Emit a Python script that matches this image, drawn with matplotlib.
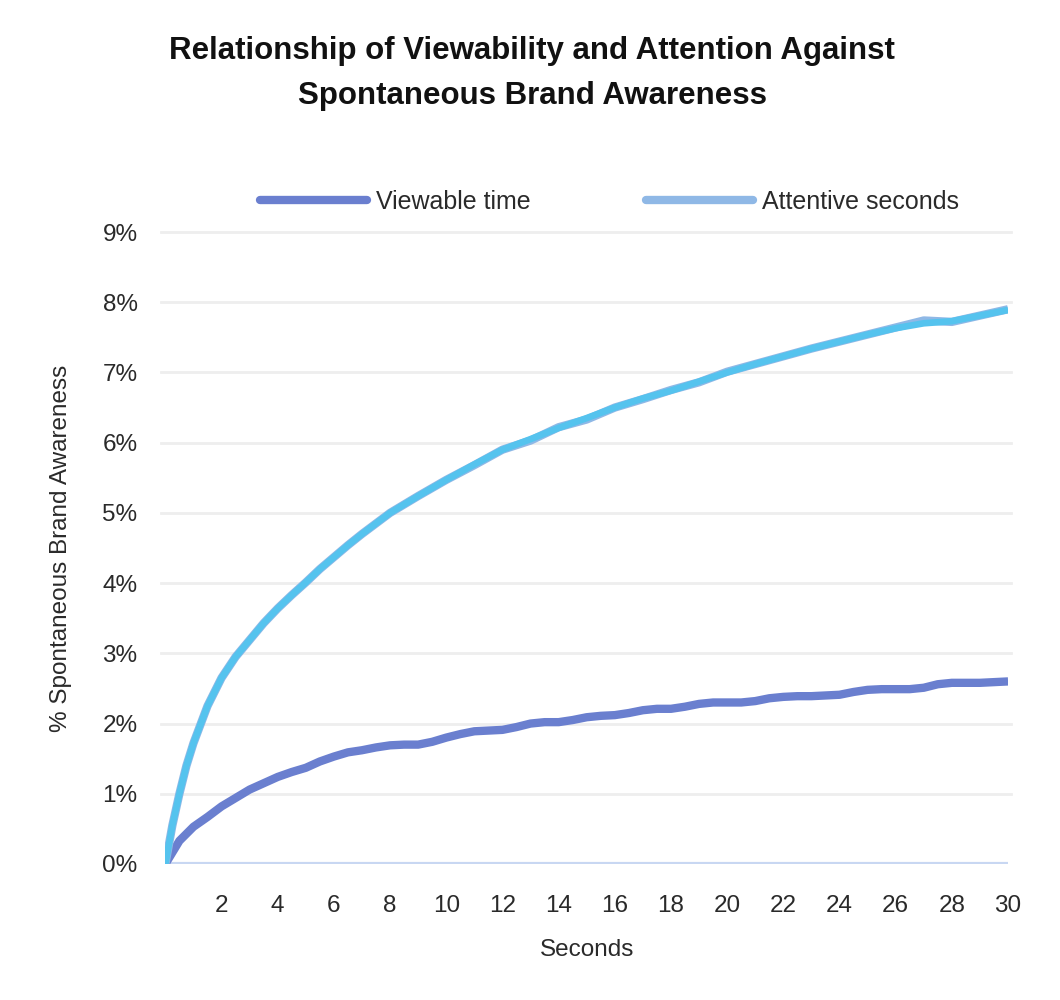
import matplotlib
matplotlib.use("Agg")
import matplotlib.pyplot as plt
from matplotlib.ticker import FuncFormatter

# Values (% spontaneous brand awareness)
viewable_secs = [0, 0.5, 1, 1.5, 2, 2.5, 3, 3.5, 4, 4.5, 5, 5.5, 6, 6.5, 7, 7.5, 8, 8.5, 9, 9.5,
                 10, 10.5, 11, 11.5, 12, 12.5, 13, 13.5, 14, 14.5, 15, 15.5, 16, 16.5, 17, 17.5,
                 18, 18.5, 19, 19.5, 20, 20.5, 21, 21.5, 22, 22.5, 23, 23.5, 24, 24.5, 25, 25.5,
                 26, 26.5, 27, 27.5, 28, 28.5, 29, 29.5, 30]
viewable_time = [0, 0.33, 0.53, 0.67, 0.82, 0.94, 1.06, 1.15, 1.24, 1.31, 1.37, 1.46, 1.53, 1.59,
                 1.62, 1.66, 1.69, 1.70, 1.70, 1.74, 1.80, 1.85, 1.89, 1.90, 1.91, 1.95, 2.00,
                 2.02, 2.02, 2.05, 2.09, 2.11, 2.12, 2.15, 2.19, 2.21, 2.21, 2.24, 2.28, 2.30,
                 2.30, 2.30, 2.32, 2.36, 2.38, 2.39, 2.39, 2.40, 2.41, 2.45, 2.48, 2.49, 2.49,
                 2.49, 2.51, 2.56, 2.58, 2.58, 2.58, 2.59, 2.60]

attentive_secs = [0, 0.25, 0.5, 0.75, 1, 1.5, 2, 2.5, 3, 3.5, 4, 4.5, 5, 5.5, 6, 6.5, 7, 7.5, 8,
                  9, 10, 11, 12, 13, 14, 15, 16, 17, 18, 19, 20, 21, 22, 23, 24, 25, 26,
                  27, 28, 29, 30]
attentive_seconds = [0, 0.55, 1.00, 1.40, 1.72, 2.25, 2.65, 2.95, 3.19, 3.43, 3.64, 3.83, 4.01,
                     4.20, 4.37, 4.54, 4.70, 4.85, 5.00, 5.24, 5.47, 5.68, 5.90, 6.03, 6.22,
                     6.33, 6.50, 6.62, 6.75, 6.86, 7.01, 7.12, 7.23, 7.34, 7.44, 7.54, 7.64,
                     7.74, 7.72, 7.81, 7.90]
# overlaid cyan curve (follows the attentive series closely)
attentive_fit = [0, 0.55, 1.00, 1.40, 1.72, 2.25, 2.65, 2.95, 3.19, 3.43, 3.64, 3.83, 4.01,
                 4.20, 4.37, 4.54, 4.70, 4.85, 5.00, 5.24, 5.47, 5.69, 5.90, 6.05, 6.21,
                 6.35, 6.50, 6.63, 6.74, 6.87, 7.00, 7.12, 7.23, 7.34, 7.44, 7.54, 7.63,
                 7.70, 7.73, 7.81, 7.89]

x_ticks = list(range(2, 31, 2))
y_ticks = list(range(0, 10))

plt.rcParams['font.family'] = ['Liberation Sans', 'DejaVu Sans']
text_col = '#2a2a2a'

fig = plt.figure(figsize=(10.6, 10), dpi=100)
ax = fig.add_axes([0.156, 0.136, 0.795, 0.632])

ax.plot(viewable_secs, viewable_time, color='#6a7fcf', lw=6, solid_capstyle='butt',
        solid_joinstyle='round', label='Viewable time', zorder=3)
ax.plot(attentive_secs, attentive_seconds, color='#8fb8e6', lw=6, solid_capstyle='butt',
        solid_joinstyle='round', label='Attentive seconds', zorder=3)
ax.plot(attentive_secs, attentive_fit, color='#55c3ee', lw=4.8, solid_capstyle='butt',
        solid_joinstyle='round', zorder=4)

ax.set_xlim(0, 30)
ax.set_ylim(0, 9)
ax.set_xticks(x_ticks)
ax.set_yticks(y_ticks)
ax.yaxis.set_major_formatter(FuncFormatter(lambda v, p: f"{int(v)}%"))
ax.tick_params(axis='both', length=0, labelsize=17.5, colors=text_col)
ax.tick_params(axis='x', pad=22)
ax.tick_params(axis='y', pad=20)

for s in ax.spines.values():
    s.set_visible(False)
for yv in y_ticks[1:]:
    ax.axhline(yv, color='#eeeeee', lw=2, zorder=1, xmin=-0.005, xmax=1.003, clip_on=False)
ax.axhline(0, color='#c8d7f2', lw=3, zorder=2)

ax.set_xlabel('Seconds', fontsize=17.5, color=text_col, labelpad=16)
ax.set_ylabel('% Spontaneous Brand Awareness', fontsize=17.5, color=text_col, labelpad=22)

fig.text(0.502, 0.949, 'Relationship of Viewability and Attention Against',
         ha='center', va='center', fontsize=22.5, fontweight='bold', color='#111111')
fig.text(0.502, 0.904, 'Spontaneous Brand Awareness',
         ha='center', va='center', fontsize=22.5, fontweight='bold', color='#111111')

leg = fig.legend(loc='center', bbox_to_anchor=(0.575, 0.798), ncol=2, frameon=False,
                 fontsize=18, handlelength=4.3, handletextpad=0.35, columnspacing=4.6)
for t in leg.get_texts():
    t.set_color(text_col)
for h in leg.legend_handles:
    h.set_solid_capstyle('round')

fig.savefig('out.png', dpi=100)
